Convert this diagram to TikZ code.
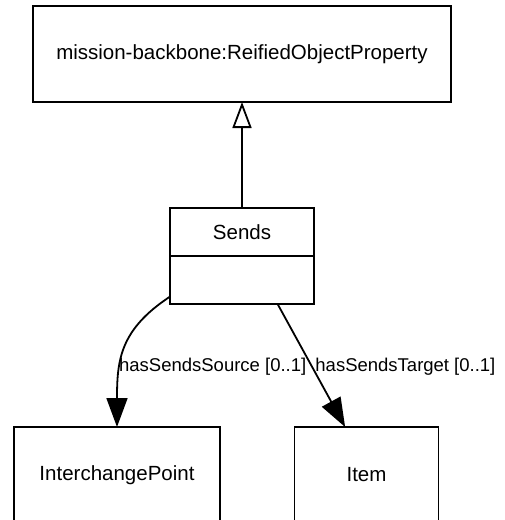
\documentclass[tikz,border=0pt]{standalone}
\usepackage{fontspec}
\setmainfont{Liberation Sans}
\usetikzlibrary{arrows.meta,positioning}

\begin{document}
\begin{tikzpicture}[x=1pt, y=-1pt, font=\fontsize{20.5}{24}\selectfont, every node/.style={inner sep=2pt}]
        \tikzset{
            cls/.style={draw, line width=1.8pt, outer sep=0pt, rectangle, align=center},
            lbl/.style={font=\fontsize{18.5}{22}\selectfont, anchor=west, inner sep=1pt},
            gen/.style={-{Triangle[open, length=26pt, width=19pt]}, line width=1.8pt},
            assoc/.style={-{Triangle[length=29pt, width=21pt]}, line width=1.8pt}
        }
        \useasboundingbox (0,0) rectangle (504,520);
        \clip (0,0) rectangle (504,520);

        % Classes
        \node[cls, minimum width=418pt, minimum height=96pt] (rop) at (242,54) {mission-backbone:ReifiedObjectProperty};
        \node[cls, minimum width=144pt, minimum height=48pt, below=106pt of rop] (sends) {Sends};
        \node[cls, minimum width=144pt, minimum height=48pt, below=0pt of sends] (sendsattr) {};

        % Range classes (cut by the lower edge)
        \node[cls, minimum width=206pt, minimum height=96pt, below=123pt of sendsattr, xshift=-125pt] (ip) {InterchangePoint};
        \node[cls, minimum width=144pt, minimum height=96pt, below=123pt of sendsattr, xshift=124.5pt] (item) {Item};

        % Subclass link
        \draw[gen] (sends.north) -- (rop.south);

        % Object properties
        \draw[assoc] (sendsattr.193) .. controls +(-50,33) and +(0,-67) .. node[lbl, pos=0.64, xshift=-3pt]{hasSendsSource [0..1]} (ip.north);
        \draw[assoc] (sendsattr.-34) -- node[lbl, pos=0.51, xshift=1.5pt]{hasSendsTarget [0..1]} (item.114);
    \end{tikzpicture}
\end{document}
